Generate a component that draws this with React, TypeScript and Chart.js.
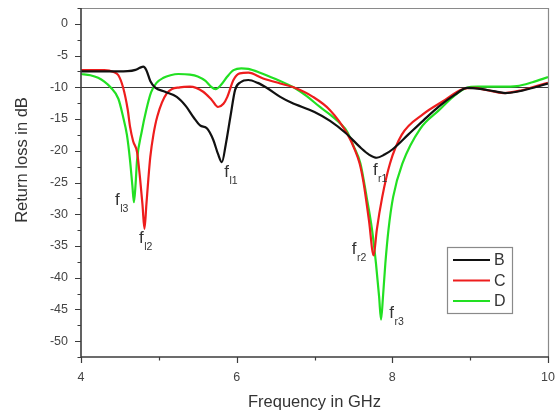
import React, { useEffect, useRef } from "react";
import { Chart, registerables } from "chart.js";

Chart.register(...registerables);

// ---- Data ----
const seriesNames = ["B", "C", "D"];
const seriesColors = ["#111111", "#ee1d1d", "#22e022"];

const freqB = [4.0, 4.3, 4.6, 4.7, 4.76, 4.8, 4.84, 4.89, 4.95, 5.08, 5.23, 5.35, 5.45, 5.53, 5.62, 5.7, 5.76, 5.81, 5.86, 5.92, 5.98, 6.05, 6.15, 6.27, 6.39, 6.56, 6.7, 7.0, 7.2, 7.4, 7.6, 7.7, 7.8, 7.9, 8.0, 8.2, 8.4, 8.6, 8.8, 8.96, 9.1, 9.3, 9.45, 9.6, 9.8, 10.0];
const lossB = [-7.5, -7.5, -7.45, -7.25, -6.9, -6.75, -7.3, -9.0, -10.0, -10.7, -11.5, -13.0, -14.8, -16.0, -16.5, -18.3, -20.5, -21.8, -19.0, -14.6, -10.4, -9.2, -8.85, -9.3, -10.1, -11.5, -12.4, -13.9, -15.3, -17.2, -19.6, -20.6, -21.1, -20.6, -19.8, -17.5, -15.2, -13.0, -11.2, -10.1, -10.2, -10.6, -10.9, -10.7, -10.1, -9.4];

const freqC = [4.0, 4.3, 4.42, 4.48, 4.54, 4.6, 4.63, 4.67, 4.72, 4.76, 4.79, 4.815, 4.84, 4.865, 4.89, 4.93, 4.98, 5.1, 5.27, 5.4, 5.57, 5.68, 5.76, 5.83, 5.88, 5.96, 6.04, 6.15, 6.34, 6.56, 6.73, 6.98, 7.2, 7.42, 7.52, 7.58, 7.63, 7.7, 7.76, 7.8, 7.87, 7.97, 8.12, 8.4, 8.65, 8.9, 9.05, 9.2, 9.43, 9.65, 9.85, 10.0];
const lossC = [-7.3, -7.3, -7.6, -8.1, -10.0, -13.5, -16.2, -18.5, -20.2, -24.5, -28.5, -32.3, -28.5, -24.5, -21.0, -17.5, -14.6, -11.0, -10.0, -9.9, -10.7, -12.0, -13.1, -12.6, -11.5, -8.8, -7.8, -7.7, -8.6, -9.4, -10.0, -11.5, -13.6, -17.3, -19.9, -22.0, -25.0, -31.0, -36.5, -32.5, -27.3, -22.0, -17.5, -14.2, -12.2, -10.3, -10.1, -10.4, -10.9, -10.5, -9.8, -9.3];

const freqD = [4.0, 4.12, 4.22, 4.3, 4.38, 4.48, 4.54, 4.59, 4.63, 4.66, 4.68, 4.7, 4.72, 4.78, 4.84, 4.9, 4.97, 5.06, 5.15, 5.25, 5.4, 5.5, 5.6, 5.67, 5.73, 5.8, 5.88, 5.96, 6.06, 6.15, 6.3, 6.5, 6.73, 6.9, 7.07, 7.2, 7.33, 7.42, 7.5, 7.59, 7.67, 7.74, 7.79, 7.83, 7.855, 7.88, 7.91, 7.95, 8.01, 8.13, 8.36, 8.6, 8.78, 8.95, 9.1, 9.4, 9.6, 9.8, 10.0];
const lossD = [-7.9, -8.1, -8.5, -9.1, -10.0, -11.8, -14.6, -17.5, -21.5, -25.5, -28.1, -25.5, -21.5, -17.0, -13.5, -10.8, -9.3, -8.5, -8.1, -7.9, -8.0, -8.3, -9.0, -9.9, -10.3, -9.6, -8.3, -7.3, -7.0, -7.1, -7.7, -8.7, -10.0, -11.4, -13.1, -14.3, -15.7, -17.0, -19.2, -22.0, -27.3, -32.5, -37.8, -43.0, -46.6, -43.0, -37.8, -32.5, -27.3, -22.0, -16.5, -13.6, -11.5, -10.1, -9.9, -9.9, -9.8, -9.2, -8.4];

// Axis ticks
const xMin = 4;
const xMax = 10;
const xLabelTicks = [4, 6, 8, 10];
const xMinorTicks = [5, 7, 9];
const yMin = -52.5;
const yMax = 2.5;
const yLabelTicks = [0, -5, -10, -15, -20, -25, -30, -35, -40, -45, -50];
const yMinorTicks = [2.5, -2.5, -7.5, -12.5, -17.5, -22.5, -27.5, -32.5, -37.5, -42.5, -47.5, -52.5];
const thresholdDb = -10;

// Resonance annotations (anchored at data coordinates)
const markSub = ["l3", "l2", "l1", "r1", "r2", "r3"];
const markFreq = [4.437, 4.745, 5.84, 7.75, 7.48, 7.96];
const markLoss = [-28.6, -34.6, -24.2, -23.85, -36.2, -46.3];

const FONT = "'Liberation Sans', Arial, Helvetica, sans-serif";
const TEXT = "#333333";

const zip = (xs: number[], ys: number[]) => xs.map((x, i) => ({ x, y: ys[i] }));

const overlayPlugin = {
  id: "overlay",
  beforeDatasetsDraw(chart: any) {
    const { ctx, chartArea: a, scales } = chart;
    const yy = Math.round(scales.y.getPixelForValue(thresholdDb)) + 0.5;
    ctx.save();
    ctx.strokeStyle = "#3a3a3a";
    ctx.lineWidth = 1;
    ctx.beginPath();
    ctx.moveTo(a.left, yy);
    ctx.lineTo(a.right, yy);
    ctx.stroke();
    ctx.restore();
  },
  afterDraw(chart: any) {
    const { ctx, chartArea: a, scales } = chart;
    const xs = scales.x;
    const ys = scales.y;
    ctx.save();

    // frame: top/right lighter
    ctx.strokeStyle = "#8a8a8a";
    ctx.lineWidth = 1.2;
    ctx.beginPath();
    ctx.moveTo(a.left, a.top + 0.5);
    ctx.lineTo(a.right + 0.5, a.top + 0.5);
    ctx.lineTo(a.right + 0.5, a.bottom);
    ctx.stroke();

    // left/bottom axes
    ctx.strokeStyle = "#3c3c3c";
    ctx.lineWidth = 1.6;
    ctx.beginPath();
    ctx.moveTo(a.left, a.top);
    ctx.lineTo(a.left, a.bottom);
    ctx.lineTo(a.right + 1, a.bottom);
    ctx.stroke();

    // tick marks
    ctx.lineWidth = 1.2;
    ctx.beginPath();
    yLabelTicks.forEach((v) => {
      const p = Math.round(ys.getPixelForValue(v)) + 0.5;
      ctx.moveTo(a.left, p);
      ctx.lineTo(a.left - 6, p);
    });
    yMinorTicks.forEach((v) => {
      const p = Math.round(ys.getPixelForValue(v)) + 0.5;
      ctx.moveTo(a.left, p);
      ctx.lineTo(a.left - 3.5, p);
    });
    xLabelTicks.forEach((v) => {
      const p = Math.round(xs.getPixelForValue(v)) + 0.5;
      ctx.moveTo(p, a.bottom);
      ctx.lineTo(p, a.bottom + 6);
    });
    xMinorTicks.forEach((v) => {
      const p = Math.round(xs.getPixelForValue(v)) + 0.5;
      ctx.moveTo(p, a.bottom);
      ctx.lineTo(p, a.bottom + 3.5);
    });
    ctx.stroke();

    // resonance labels
    ctx.fillStyle = TEXT;
    ctx.textBaseline = "alphabetic";
    ctx.textAlign = "left";
    markSub.forEach((s, i) => {
      const px = xs.getPixelForValue(markFreq[i]);
      const py = ys.getPixelForValue(markLoss[i]);
      ctx.font = `17px ${FONT}`;
      ctx.fillText("f", px, py);
      const w = ctx.measureText("f").width;
      ctx.font = `10.5px ${FONT}`;
      ctx.fillText(s, px + w + 0.5, py + 7);
    });

    // legend (inside plot, lower right)
    const lx = a.right - 101;
    const ly = a.bottom - 110;
    ctx.strokeStyle = "#8a8a8a";
    ctx.lineWidth = 1.2;
    ctx.strokeRect(lx + 0.5, ly + 0.5, 65, 66);
    seriesNames.forEach((n, i) => {
      const yy = ly + 13 + i * 20.5;
      ctx.strokeStyle = seriesColors[i];
      ctx.lineWidth = 2;
      ctx.beginPath();
      ctx.moveTo(lx + 6, yy);
      ctx.lineTo(lx + 43, yy);
      ctx.stroke();
      ctx.fillStyle = TEXT;
      ctx.font = `16px ${FONT}`;
      ctx.textBaseline = "middle";
      ctx.fillText(n, lx + 47, yy + 1);
    });

    // axis titles
    ctx.fillStyle = TEXT;
    ctx.font = `16.5px ${FONT}`;
    ctx.textAlign = "center";
    ctx.textBaseline = "middle";
    ctx.fillText("Frequency in GHz", (a.left + a.right) / 2, 402);
    ctx.save();
    ctx.translate(22, 160);
    ctx.rotate(-Math.PI / 2);
    ctx.fillText("Return loss in dB", 0, 0);
    ctx.restore();

    ctx.restore();
  },
};

export default function App() {
  const ref = useRef<HTMLCanvasElement | null>(null);

  useEffect(() => {
    if (!ref.current) return;
    const chart = new Chart(ref.current, {
      type: "line",
      data: {
        datasets: [
          { label: seriesNames[0], data: zip(freqB, lossB), borderColor: seriesColors[0] },
          { label: seriesNames[1], data: zip(freqC, lossC), borderColor: seriesColors[1] },
          { label: seriesNames[2], data: zip(freqD, lossD), borderColor: seriesColors[2] },
        ].map((d) => ({
          ...d,
          borderWidth: 2.2,
          pointRadius: 0,
          fill: false,
          cubicInterpolationMode: "monotone" as const,
        })),
      },
      options: {
        responsive: false,
        animation: false,
        devicePixelRatio: 1,
        layout: { padding: { top: 8, right: 9, left: 0, bottom: 0 } },
        plugins: {
          legend: { display: false },
          tooltip: { enabled: false },
          title: { display: false },
        },
        scales: {
          x: {
            type: "linear",
            min: xMin,
            max: xMax,
            afterBuildTicks: (s: any) => {
              s.ticks = xLabelTicks.map((v) => ({ value: v }));
            },
            afterFit: (s: any) => {
              s.height = 55;
              s.paddingLeft = 0;
              s.paddingRight = 0;
            },
            grid: { display: false, drawTicks: false },
            border: { display: false },
            ticks: {
              autoSkip: false,
              maxRotation: 0,
              padding: 13,
              color: "#444444",
              font: { family: FONT, size: 12.5 },
              callback: (v: any) => String(v),
            },
          },
          y: {
            type: "linear",
            min: yMin,
            max: yMax,
            afterBuildTicks: (s: any) => {
              s.ticks = yLabelTicks.map((v) => ({ value: v }));
            },
            afterFit: (s: any) => {
              s.width = 81;
              s.paddingTop = 0;
              s.paddingBottom = 0;
            },
            grid: { display: false, drawTicks: false },
            border: { display: false },
            ticks: {
              autoSkip: false,
              padding: 13,
              color: "#444444",
              font: { family: FONT, size: 12.5 },
              callback: (v: any) => String(v),
            },
          },
        },
      },
      plugins: [overlayPlugin],
    });
    return () => chart.destroy();
  }, []);

  return (
    <div style={{ position: "absolute", left: 0, top: 0, width: 557, height: 412, background: "#fff" }}>
      <canvas ref={ref} width={557} height={412} />
    </div>
  );
}
